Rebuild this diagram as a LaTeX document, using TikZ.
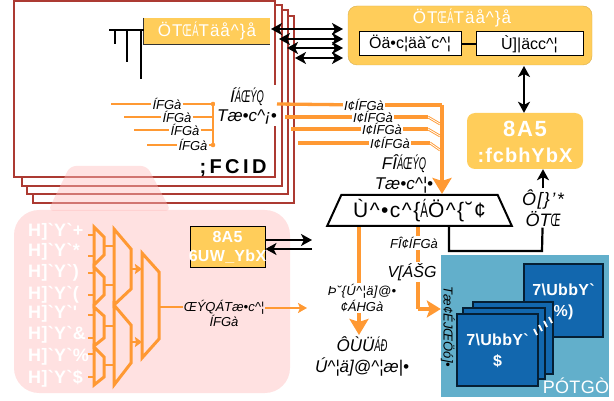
\documentclass[tikz,border=0pt]{standalone}
\usepackage{fontspec}
\setmainfont{Liberation Sans}
\newfontfamily\widefont[LetterSpace=2]{Liberation Sans}
\usepackage{graphicx}
\usepackage{xcolor}
\definecolor{myred}{RGB}{172,58,50}
\definecolor{myorange}{RGB}{255,153,51}
\definecolor{boxyellow}{RGB}{255,205,90}
\definecolor{pinkfill}{RGB}{255,225,225}
\definecolor{tealfill}{RGB}{98,175,203}
\definecolor{cardblue}{RGB}{18,103,174}
\usepackage{tikz}
\usetikzlibrary{arrows.meta,shapes.geometric}
\newcommand{\nrw}[1]{\scalebox{.55}[1]{#1}}
\tikzset{
  stackframe/.style={draw=myred,line width=2.4pt,fill=white},
  lbl/.style={font=\itshape\fontsize{13}{13}\selectfont,inner sep=1pt},
  biglbl/.style={font=\itshape\fontsize{17}{18}\selectfont,inner sep=1pt,align=center},
  whitetxt/.style={text=white,font=\widefont\bfseries\fontsize{#1}{#1}\selectfont,inner sep=0pt,align=center},
  ybox/.style={fill=boxyellow,minimum width=#1,inner sep=0pt},
  regbox/.style={draw=black,line width=1pt,fill=white,minimum height=24pt,inner sep=0pt,font=\fontsize{16}{17}\selectfont},
  card/.style={draw=black!70!cardblue,line width=1.2pt,fill=cardblue},
  wire/.style={myorange,line width=1.7pt},
  bus/.style={myorange,line width=3.3pt},
  bustip/.style={bus,-{Stealth[length=16pt,width=19pt,inset=3pt]}},
  muxpart/.style={draw=myorange,line width=3pt,line join=miter},
  dbl/.style={black,line width=2.3pt,{Stealth[length=11pt,width=12pt,inset=3pt]}-{Stealth[length=11pt,width=12pt,inset=3pt]}},
  sgl/.style={black,line width=2.3pt,-{Stealth[length=11pt,width=12pt,inset=3pt]}},
  tick/.style={black,line width=1.2pt}
}
\begin{document}
\begin{tikzpicture}[x=1pt,y=-1pt]
  \useasboundingbox (0,0) rectangle (614,401);
  \draw[stackframe] (33,16) rectangle (294,203);
  \draw[stackframe] (27,10) rectangle (288,194);
  \draw[stackframe] (22,5) rectangle (282,186);
  \draw[stackframe] (14,1) rectangle (275,177);

  \fill[pinkfill,rounded corners=25pt] (14,210) rectangle (290,393);
  \fill[pink,opacity=.45,rounded corners=6pt] (48,211) -- (70,166) -- (147,166) -- (171,211) -- cycle;
  \node[font=\bfseries\fontsize{20}{20}\selectfont,inner sep=0pt] (fpga) at (233,168) {\addfontfeature{LetterSpace=17};FCID};

  % top dma blocks
  \node[ybox=126pt,minimum height=26pt,text=white,font=\widefont\fontsize{17}{17}\selectfont] (dmasmall) at (207,31) {\addfontfeature{LetterSpace=6}ÖT\nrw{ŒÁ}Täå\textasciicircum\}å};
  \draw[black!80,line width=.7pt] (dmasmall.north west) -- (dmasmall.south west) -- (dmasmall.south east);
  \coordinate (busl) at (109,30);
  \coordinate (tk1) at (115,44);
  \coordinate (tk2) at (127,62);
  \coordinate (tk3) at (141,79);
  \draw[tick] (busl) -- (dmasmall.west |- busl);
  \draw[tick] (tk1 |- busl) -- (tk1);
  \draw[tick] (tk2 |- busl) -- (tk2);
  \draw[tick] (tk3 |- busl) -- (tk3);

  \node[fill=boxyellow,draw=boxyellow!85!black,line width=.4pt,rounded corners=9pt,minimum width=244pt,minimum height=59pt,inner sep=0pt] (dmabig) at (470,35.5) {};
  \node[text=white,font=\widefont\fontsize{17}{17}\selectfont,inner sep=0pt] (dmatitle) at (462,18) {\addfontfeature{LetterSpace=6}ÖT\nrw{ŒÁ}Täå\textasciicircum\}å};
  \node[regbox,minimum width=102pt] (desc) at (410,44) {Öä•c¦äà˘c\textasciicircum¦};
  \node[regbox,minimum width=107pt] (ctrl) at (529.5,44) {Ù]|äcc\textasciicircum¦};
  \draw[black,line width=2pt] (desc) -- (ctrl);

  \coordinate (a1l) at (271,29); \coordinate (a1r) at (343,29);
  \coordinate (a2l) at (279,39); \coordinate (a2r) at (343,39);
  \coordinate (a3l) at (287,48); \coordinate (a3r) at (343,48);
  \coordinate (a4l) at (295,58); \coordinate (a4r) at (343,58);
  \foreach \n in {1,2,3,4} \draw[dbl] (a\n l) -- (a\n r);

  \node[ybox=116pt,minimum height=56pt,rounded corners=8pt] (cpuhybrid) at (525,141) {};
  \node[whitetxt=20] (cpulbl) at (525,142) {{\fontsize{22}{22}\selectfont\addfontfeature{LetterSpace=8}8A5}\\[6pt]{\addfontfeature{LetterSpace=5}:fcbhYbX}};
  \coordinate (vtop) at (524,66);
  \draw[dbl] (vtop) -- (vtop |- cpuhybrid.north);

  % left wires
  \node[lbl] (wl1) at (167,104) {ÍFGà};
  \node[lbl] (wl2) at (177,117) {ÍFGà};
  \node[lbl] (wl3) at (185,130) {ÍFGà};
  \node[lbl] (wl4) at (193,145) {ÍFGà};
  \coordinate (j1) at (213,104); \coordinate (j2) at (213,117);
  \coordinate (j3) at (213,130); \coordinate (j4) at (213,145);
  \coordinate (w1) at (111,104); \coordinate (w2) at (124,117);
  \coordinate (w3) at (134,130); \coordinate (w4) at (147,145);
  \foreach \n in {1,2,3,4} {
    \draw[wire] (w\n) -- (wl\n);
    \draw[wire] (wl\n) -- (j\n);
  }
  \draw[wire,line width=2pt] (j1) -- (j4);
  \fill[myorange] (j1) circle (2.3pt) (j4) circle (2.3pt);
  \node[biglbl,fill=white,inner sep=2pt,minimum width=58pt] (axim) at (247,105.5) {Í\nrw{ÁŒÝQ}\\[1pt]Tæ•c\textasciicircum¡•};

  % right wires
  \node[lbl] (wr1) at (364,105) {I¢ÍFGà};
  \node[lbl] (wr2) at (373,117) {I¢ÍFGà};
  \node[lbl] (wr3) at (382,129) {I¢ÍFGà};
  \node[lbl] (wr4) at (390,143) {I¢ÍFGà};
  \coordinate (s1) at (277,104); \coordinate (s2) at (285,117);
  \coordinate (s3) at (291,129); \coordinate (s4) at (298,143);
  \foreach \n in {1,2,3,4} \draw[bus] (s\n) -- (wr\n);
  \coordinate (b2) at (428,117); \coordinate (b3) at (428,129); \coordinate (b4) at (430,143);
  \coordinate (m2) at (440,124); \coordinate (m3) at (440,136); \coordinate (m4) at (440,150);
  \foreach \n in {2,3,4} {
    \draw[bus] (wr\n) -- (b\n);
    \draw[myorange,line width=.9pt,double,double distance=.8pt] (b\n) -- (m\n);
  }
  \coordinate (bend) at (442,105);
  \node[biglbl] (sysm) at (404,174) {FÎ\nrw{ÁŒÝQ}\\[2pt]Tæ•c\textasciicircum¦•};

  % system
  \node[draw=black,line width=2pt,fill=white,trapezium,trapezium stretches=true,trapezium left angle=62,trapezium right angle=62,minimum width=185pt,minimum height=31pt,inner sep=0pt,font=\fontsize{21}{21}\selectfont] (sys) at (419.5,210.5) {\addfontfeature{LetterSpace=7}Ù\textasciicircum•c\textasciicircum\{\nrw{Á}Ö\textasciicircum\{˘¢};
  \draw[bus] (wr1) -- (bend);
  \draw[bustip] (bend) -- (sys.north -| bend);

  % cfg loop
  \node[biglbl,font=\itshape\fontsize{18}{19}\selectfont] (cfg) at (543,208) {\addfontfeature{LetterSpace=8}Ô[\}'*\\[2pt]ÖT\nrw{Œ}};
  \coordinate (lp1) at (542,251);
  \coordinate (lp2) at (449,251);
  \draw[black,line width=2.2pt] (sys.south -| lp2) -- (lp2) -- (lp1) -- (cfg);
  \draw[sgl] (cfg) -- (cfg |- cpuhybrid.south);

  % peripherals
  \node[lbl,align=center] (perw) at (362,298) {\addfontfeature{LetterSpace=3}Þ˘\{Ú\textasciicircum¦ä]@•\\[1pt]¢ÁHGà};
  \node[biglbl] (peri) at (362,356) {ÔÙÜ\nrw{ÁÐ}\\[3pt]Ú\textasciicircum¦ä]@\textasciicircum¦æ|•};
  \coordinate (pertop) at (359,226);
  \draw[bus] (sys.south -| pertop) -- (perw.north -| pertop);
  \draw[bustip] (perw.south -| pertop) -- (peri.north -| pertop);

  % memory panel
  \node[fill=tealfill,minimum width=168pt,minimum height=142pt,inner sep=0pt] (hbm) at (525,326) {};
  \node[text=white,font=\widefont\fontsize{18}{18}\selectfont,inner sep=0pt] (hbmlbl) at (576,386) {PÓTGÒ};
  \node[rotate=-90,font=\itshape\fontsize{13}{13}\selectfont,inner sep=0pt] (hbmrate) at (448,327) {Tæ¢ÉJŒÖó]•};
  \node[card,minimum width=79pt,minimum height=73pt] (ch31) at (563.5,300.5) {};
  \node[whitetxt=16] (ch31lbl) at (563.5,302) {7\textbackslash UbbY`\\[5pt]\%)};
  \node[card,minimum width=80pt,minimum height=72pt] (ch2) at (513,338) {};
  \node[card,minimum width=82pt,minimum height=71pt] (ch1) at (504,343.5) {};
  \node[card,minimum width=81pt,minimum height=72pt] (ch0) at (497.5,350) {};
  \node[whitetxt=16] (ch0lbl) at (497.5,351) {7\textbackslash UbbY`\\[5pt]\$};
  \foreach \x/\y in {534/329,539/325,544/321,549/317}
    \draw[white,line width=2pt] (\x,\y) -- ++(3,6);

  % to l2
  \node[lbl] (sysw) at (414,243) {FÎ¢ÍFGà};
  \node[biglbl,font=\itshape\fontsize{16}{16}\selectfont] (tol) at (412,272) {V[ÁŠG};
  \coordinate (ltop) at (418,226);
  \coordinate (lbend) at (418,309);
  \draw[bus] (sys.south -| ltop) -- (sysw.north -| ltop);
  \draw[bus] (sysw.south -| ltop) -- (tol.north -| ltop);
  \draw[bus] (tol.south -| ltop) -- (lbend);
  \draw[bustip,-{Stealth[length=14pt,width=17pt,inset=3pt]}] (lbend) -- (hbm.west |- lbend);

  % mux tree
  \foreach \l/\t/\b/\rt/\rb in {94/227/265/237/255,94/267/305/277/295,94/307/346/316/338,94/347/385/357/377}
    \draw[muxpart] (\l,\t) -- (\l+10,\rt) -- (\l+10,\rb) -- (\l,\b) -- cycle;
  \draw[muxpart] (114,229) -- (131,249) -- (131,289) -- (114,305) -- cycle;
  \draw[muxpart] (114,305) -- (131,325) -- (131,363) -- (114,385) -- cycle;
  \draw[muxpart] (142,253) -- (159,272) -- (159,339) -- (142,358) -- cycle;
  \foreach \y in {235,256,273,295,315,338,354,377} \draw[wire] (88,\y) -- (94,\y);
  \foreach \y in {246,285,326,365} \draw[wire] (104,\y) -- (114,\y);
  \foreach \y in {269,342} \draw[wire,line width=2pt,-{Stealth[length=7pt,width=10pt,inset=1pt]}] (131,\y) -- (142,\y);
  \foreach \y/\s in {232/+,252/*,273/),295/(,314/',335/\&,357/\%,379/\$}
    \node[whitetxt=18,anchor=west] at (28,\y) {H]`Y`\s};
  \node[lbl,align=center,font=\itshape\fontsize{13}{11}\selectfont] (muxw) at (224,313.5) {ŒÝQÁTæ•c\textasciicircum¦\\[0pt]ÍFGà};
  \coordinate (muxo) at (159,307);
  \coordinate (muxe) at (307,308);
  \draw[wire] (muxo) -- (muxw.west |- muxo);
  \draw[wire,-{Stealth[length=9pt,width=10pt,inset=2pt]}] (muxw.east |- muxe) -- (muxe);

  % cpu sidecar
  \node[draw=black,line width=1pt,fill=boxyellow,minimum width=75pt,minimum height=41pt,inner sep=0pt] (cpubox) at (227.5,247.5) {};
  \node[whitetxt=16] (cpuboxl) at (227.5,247.5) {8A5\\[3pt]6UW\_YbX};
  \coordinate (c1r) at (312,240); \coordinate (c2r) at (312,249);
  \draw[sgl] (cpubox.east |- c1r) -- (c1r);
  \draw[sgl] (c2r) -- (cpubox.east |- c2r);
\end{tikzpicture}
\end{document}
